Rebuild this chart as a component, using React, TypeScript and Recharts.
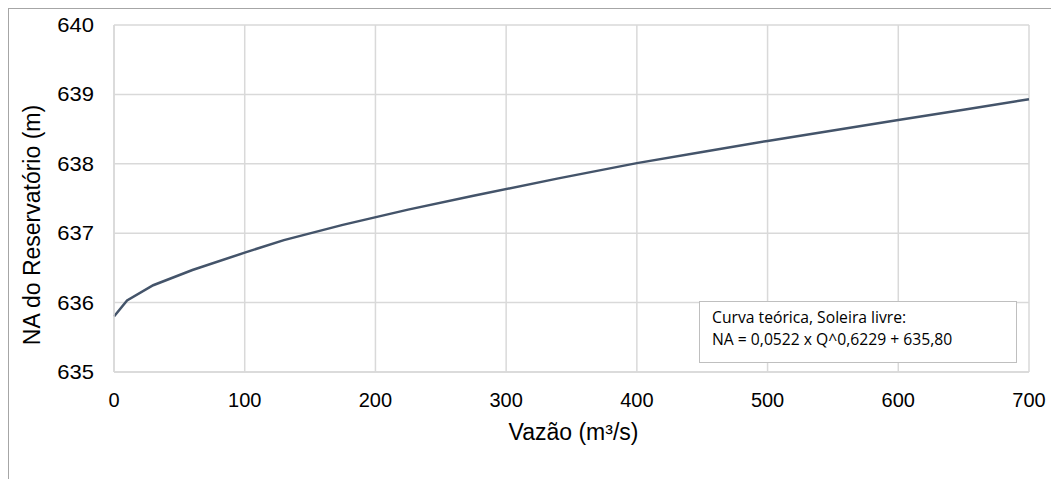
import { LineChart, Line, XAxis, YAxis, CartesianGrid } from 'recharts'

// vazão (m³/s) e NA
const flows = [0, 10, 30, 60, 100, 130, 175, 225, 275, 340, 400, 450, 500, 550, 600, 650, 700]
const levels = [
  635.8, 636.03, 636.25, 636.47, 636.72, 636.9, 637.12, 637.34, 637.54, 637.79,
  638.01, 638.17, 638.33, 638.48, 638.63, 638.78, 638.93,
]
const xTicks = [0, 100, 200, 300, 400, 500, 600, 700]
const yTicks = [635, 636, 637, 638, 639, 640]

const data = flows.map((q, i) => ({ q, na: levels[i] }))

const FONT = '"Liberation Sans", Arial, sans-serif'
const GRID = '#d9d9d9'

function XTick({ x, y, payload }: any) {
  return (
    <text x={x} y={y + 27} textAnchor="middle" fontFamily={FONT} fontSize={20} fill="#000">
      {payload.value}
    </text>
  )
}

// y labels are a bit wider in the original
function YTick({ x, y, payload }: any) {
  return (
    <g transform={`translate(${x - 12}, ${y + 7}) scale(1.1, 1)`}>
      <text x={0} y={0} textAnchor="end" fontFamily={FONT} fontSize={20} fill="#000">
        {payload.value}
      </text>
    </g>
  )
}

export default function App() {
  return (
    <div
      style={{
        position: 'relative',
        width: 1051,
        height: 471,
        borderTop: '1px solid #a6a6a6',
        borderLeft: '1px solid #a6a6a6',
      }}
    >
      <LineChart
        width={1050}
        height={470}
        data={data}
        margin={{ top: 16, right: 30, left: 0, bottom: 0 }}
      >
        <CartesianGrid stroke={GRID} strokeWidth={1.5} />
        <XAxis
          dataKey="q"
          type="number"
          domain={[0, 700]}
          ticks={xTicks}
          height={107}
          tickLine={false}
          axisLine={{ stroke: GRID, strokeWidth: 1.5 }}
          tick={<XTick />}
          label={{
            content: ({ viewBox }: any) => (
              <text
                x={viewBox.x + viewBox.width / 2 + 2}
                y={431}
                textAnchor="middle"
                fontFamily={FONT}
                fontSize={23}
                fill="#000"
              >
                Vazão (m³/s)
              </text>
            ),
          }}
        />
        <YAxis
          type="number"
          domain={[635, 640]}
          ticks={yTicks}
          width={105}
          tickLine={false}
          axisLine={{ stroke: GRID, strokeWidth: 1.5 }}
          tick={<YTick />}
          label={{
            content: () => (
              <text
                x={31}
                y={216}
                transform="rotate(-90 31 216)"
                textAnchor="middle"
                fontFamily={FONT}
                fontSize={23}
                fill="#000"
              >
                NA do Reservatório (m)
              </text>
            ),
          }}
        />
        <Line
          dataKey="na"
          stroke="#44546a"
          strokeWidth={2.5}
          dot={false}
          isAnimationActive={false}
        />
      </LineChart>
      <div
        style={{
          position: 'absolute',
          left: 690,
          top: 292,
          width: 318,
          height: 62,
          border: '1px solid #bfbfbf',
          background: '#fff',
          fontFamily: '"Open Sans", sans-serif',
          fontSize: 15.7,
          lineHeight: '22px',
          paddingLeft: 12,
          paddingTop: 4,
          boxSizing: 'border-box',
          color: '#000',
          whiteSpace: 'nowrap',
        }}
      >
        <div>Curva teórica, Soleira livre:</div>
        <div>NA = 0,0522 x Q^0,6229 + 635,80</div>
      </div>
    </div>
  )
}
